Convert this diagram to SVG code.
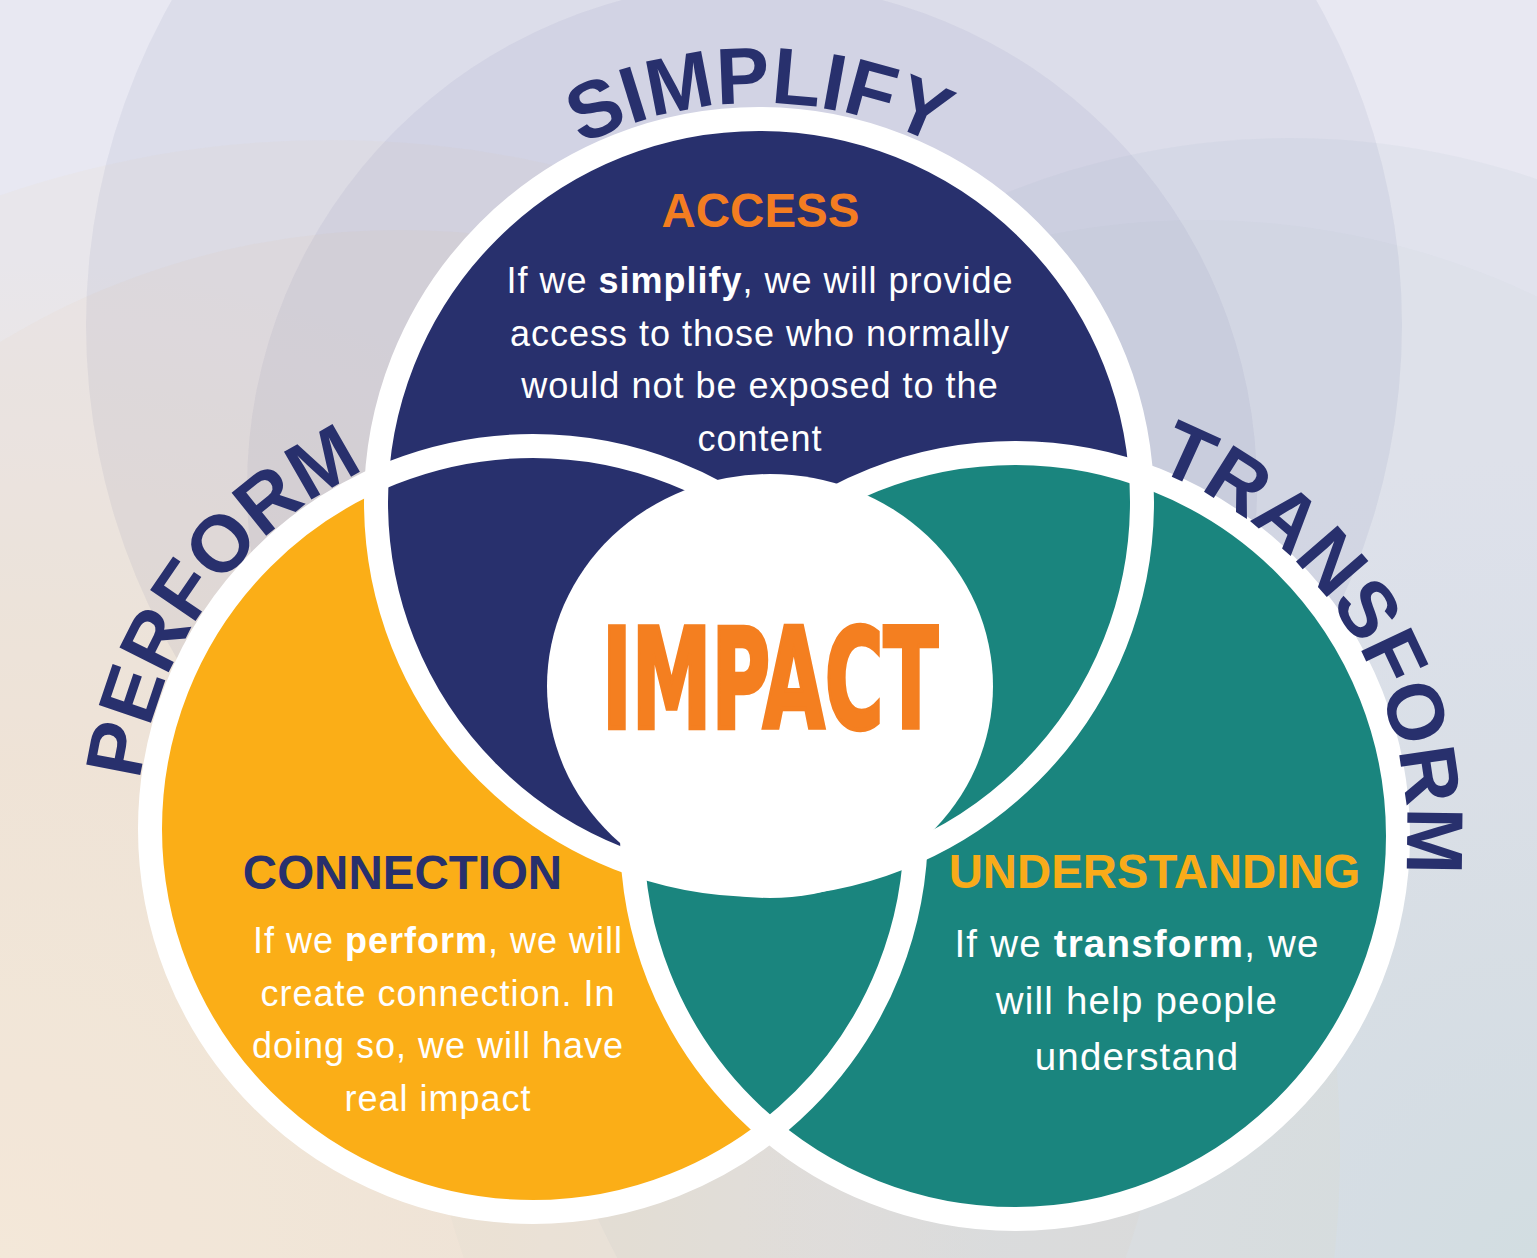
<svg xmlns="http://www.w3.org/2000/svg" width="1537" height="1258" viewBox="0 0 1537 1258">
<defs>
<style>
.arc { font-family: "Liberation Sans", Arial, sans-serif; font-weight: 700; font-size: 80px; fill: #28306d; }
.title { font-family: "Liberation Sans", Arial, sans-serif; font-weight: 700; text-anchor: middle; }
.body { font-family: "Liberation Sans", Arial, sans-serif; font-size: 36px; fill: #ffffff; text-anchor: middle; letter-spacing: 1px; }
.body2 { font-family: "Liberation Sans", Arial, sans-serif; font-size: 38.5px; fill: #ffffff; text-anchor: middle; letter-spacing: 1.2px; }
.b { font-weight: 700; }
.ring { fill: none; stroke: #ffffff; stroke-width: 24; }
</style>
<radialGradient id="gPeach" cx="0" cy="1258" r="1000" gradientUnits="userSpaceOnUse">
<stop offset="0" stop-color="#f6efe4"/>
<stop offset="0.5" stop-color="#f3e8dc" stop-opacity="0.8"/>
<stop offset="1" stop-color="#f3e8dc" stop-opacity="0"/>
</radialGradient>
<radialGradient id="gTeal" cx="1537" cy="1258" r="800" gradientUnits="userSpaceOnUse">
<stop offset="0" stop-color="#dbe3e7"/>
<stop offset="1" stop-color="#dbe3e7" stop-opacity="0"/>
</radialGradient>
<path id="pSimplify" d="M 360 502 A 399 399 0 0 1 1158 502"/>
<path id="pPerform" d="M 300.2 1149.4 A 396 396 0 0 1 765.8 508.6"/>
<path id="pTransform" d="M 808.4 502.8 A 392 392 0 0 1 1221.6 1169.2"/>
</defs>

<g id="background">
<rect x="0" y="0" width="1537" height="1258" fill="#e8e8f2"/>
<rect x="0" y="0" width="1537" height="1258" fill="url(#gPeach)"/>
<rect x="0" y="0" width="1537" height="1258" fill="url(#gTeal)"/>
<circle cx="330" cy="1150" r="1010" fill="#efd3b0" fill-opacity="0.10"/>
<circle cx="400" cy="1000" r="770" fill="#e9c9a2" fill-opacity="0.09"/>
<circle cx="1290" cy="900" r="762" fill="#8fa9b8" fill-opacity="0.07"/>
<circle cx="1200" cy="1000" r="780" fill="#8fa9b8" fill-opacity="0.04"/>
<circle cx="744" cy="325" r="658" fill="#2a3172" fill-opacity="0.06"/>
<circle cx="752" cy="488" r="505" fill="#2a3172" fill-opacity="0.05"/>
</g>

<g id="circle-fills">
<circle id="fill-connection" cx="533" cy="829" r="383" fill="#fbae17"/>
<circle id="fill-access" cx="759" cy="502" r="383" fill="#28306d"/>
<circle id="fill-understanding" cx="1015" cy="836" r="383" fill="#1a857e"/>
</g>

<g id="circle-rings">
<circle class="ring" cx="533" cy="829" r="383"/>
<circle class="ring" cx="759" cy="502" r="383"/>
<circle class="ring" cx="1015" cy="836" r="383"/>
</g>

<g id="node-impact">
<ellipse cx="770" cy="686" rx="223" ry="212" fill="#ffffff"/>
<text x="602" y="727.5" font-family="'DejaVu Sans', 'Liberation Sans', sans-serif" font-weight="700" font-size="139" fill="#f47f20" stroke="#f47f20" stroke-width="4.5" stroke-linejoin="miter" textLength="336" lengthAdjust="spacingAndGlyphs">IMPACT</text>
</g>

<g id="node-access">
<text class="title" x="760.5" y="227" font-size="47.5" fill="#f37d21">ACCESS</text>
<text class="body" x="760" y="293.3">If we <tspan class="b">simplify</tspan>, we will provide</text>
<text class="body" x="760" y="345.7">access to those who normally</text>
<text class="body" x="760" y="398.3">would not be exposed to the</text>
<text class="body" x="760" y="450.7">content</text>
</g>

<g id="node-connection">
<text class="title" x="402.5" y="889" font-size="47.5" fill="#28306d">CONNECTION</text>
<text class="body" x="438" y="953.3">If we <tspan class="b">perform</tspan>, we will</text>
<text class="body" x="438" y="1005.7">create connection. In</text>
<text class="body" x="438" y="1058.3">doing so, we will have</text>
<text class="body" x="438" y="1110.7">real impact</text>
</g>

<g id="node-understanding">
<text class="title" x="1154.5" y="887.7" font-size="47.3" fill="#f9ab19">UNDERSTANDING</text>
<text class="body2" x="1137" y="956.7">If we <tspan class="b">transform</tspan>, we</text>
<text class="body2" x="1137" y="1013.5">will help people</text>
<text class="body2" x="1137" y="1070">understand</text>
</g>

<g id="arc-labels">
<text class="arc"><textPath href="#pSimplify" startOffset="50%" text-anchor="middle">SIMPLIFY</textPath></text>
<text class="arc"><textPath href="#pPerform" startOffset="50%" text-anchor="middle">PERFORM</textPath></text>
<text class="arc"><textPath href="#pTransform" startOffset="50%" text-anchor="middle">TRANSFORM</textPath></text>
</g>

<g id="connectors"></g>
</svg>
